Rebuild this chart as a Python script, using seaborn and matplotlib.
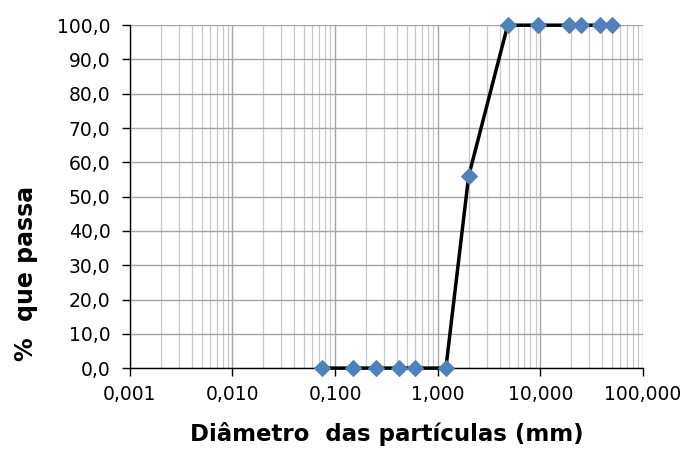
import matplotlib
matplotlib.use("Agg")
import matplotlib.pyplot as plt
import matplotlib.ticker as mticker
import seaborn as sns
import pandas as pd

diametro_mm = [0.075, 0.15, 0.25, 0.42, 0.6, 1.2, 2.0, 4.8, 9.5, 19.0, 25.0, 38.0, 50.0]
passa_pct = [0.0, 0.0, 0.0, 0.0, 0.0, 0.0, 56.0, 100.0, 100.0, 100.0, 100.0, 100.0, 100.0]
x_ticks = [0.001, 0.01, 0.1, 1, 10, 100]
y_ticks = [0, 10, 20, 30, 40, 50, 60, 70, 80, 90, 100]

sns.set_style("white")
plt.rcParams['font.family'] = ['DejaVu Sans']
plt.rcParams['text.color'] = 'black'

df = pd.DataFrame({"d": diametro_mm, "p": passa_pct})

fig = plt.figure(figsize=(6.87, 4.5), dpi=100)
ax = fig.add_axes([0.189, 0.182, 0.747, 0.762])

sns.lineplot(data=df, x="d", y="p", ax=ax, sort=False, color="black", linewidth=2.5,
             marker="D", markersize=8, markerfacecolor="#4F81BD", markeredgecolor="#4F81BD",
             zorder=3, clip_on=False)

ax.set_xscale("log")
ax.set_xlim(0.001, 100)
ax.set_ylim(0, 100)
ax.set_xticks(x_ticks)
ax.set_yticks(y_ticks)
ax.xaxis.set_minor_locator(mticker.LogLocator(base=10, subs=range(2, 10), numticks=100))
ax.xaxis.set_minor_formatter(mticker.NullFormatter())
ax.xaxis.set_major_formatter(mticker.FuncFormatter(lambda v, p: f"{v:.3f}".replace(".", ",")))
ax.yaxis.set_major_formatter(mticker.FuncFormatter(lambda v, p: f"{v:.1f}".replace(".", ",")))

ax.grid(True, which="major", axis="both", color="#A6A6A6", linewidth=1.0, zorder=0)
ax.grid(True, which="minor", axis="x", color="#C8C8C8", linewidth=0.9, zorder=0)
ax.set_axisbelow(True)

for s in ["top", "right"]:
    ax.spines[s].set_visible(False)
for s in ["left", "bottom"]:
    ax.spines[s].set_color("black")
    ax.spines[s].set_linewidth(1.0)

ax.tick_params(axis="both", which="major", direction="out", length=6, width=1,
               labelsize=13.5, colors="black", labelcolor="black", bottom=True, left=True)
ax.tick_params(axis="x", which="minor", length=0)
ax.tick_params(axis="x", pad=6)
ax.tick_params(axis="y", pad=8)

ax.set_xlabel("Diâmetro  das partículas (mm)", fontsize=16.5, fontweight="bold",
              color="black", labelpad=13)
ax.set_ylabel("%  que passa", fontsize=17, fontweight="bold", color="black")
ax.yaxis.set_label_coords(-0.178, 0.277)

fig.savefig("out.png", dpi=100)
